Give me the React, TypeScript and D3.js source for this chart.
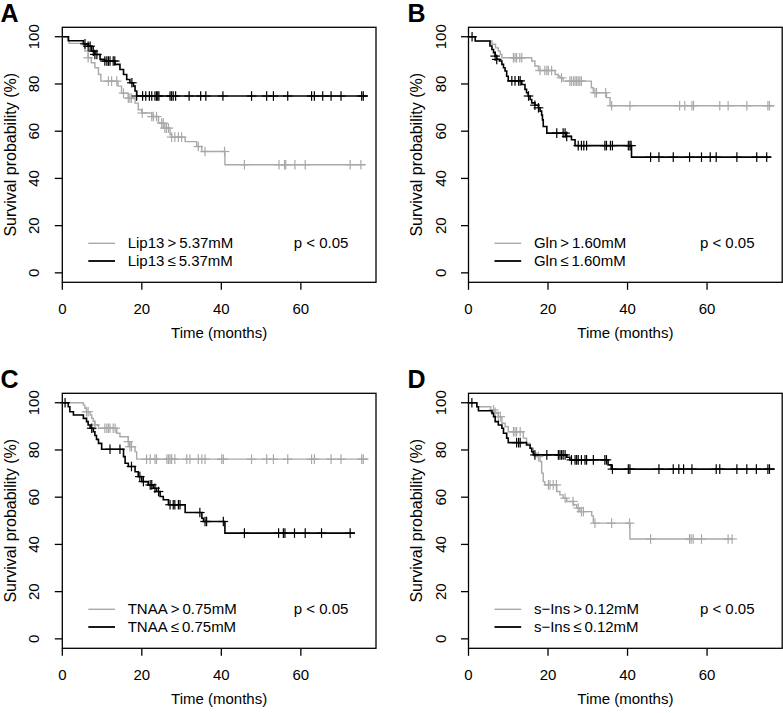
import React from 'react';
import * as d3 from 'd3';

type Pt = [number, number];

const timeTicks = [0, 20, 40, 60];
const survTicks = [0, 20, 40, 60, 80, 100];

// ---------- Panel A: Lip13 ----------
const lipHighSteps: Pt[] = [[0,100],[1.7,97.2],[5.3,96.0],[5.7,93.9],[6.5,91.1],[7.3,89.0],[8.2,86.9],[9.1,84.0],[9.7,81.2],[14.0,79.1],[14.9,76.1],[16.6,74.0],[18.3,71.9],[19.1,69.1],[20.0,67.7],[22.5,66.2],[24.2,63.4],[25.5,61.3],[27.1,58.5],[27.5,57.5],[30.9,55.6],[33.8,53.5],[35.1,51.4],[40.9,45.8]];
const lipHighEnd = 76.2;
const lipHighCensor = [6.5,11.6,12.4,13.7,15.4,16.6,17.0,17.4,20.1,22.5,22.9,23.7,25.0,25.4,25.8,26.2,26.7,27.5,28.3,29.2,30.0,34.2,35.9,40.8,45.8,54.5,55.9,56.2,58.5,61.1,72.4,75.1];
const lipLowSteps: Pt[] = [[0,100],[1.5,98.3],[5.3,97.0],[6.5,96.0],[7.4,93.9],[8.2,92.5],[9.5,90.4],[10.7,89.7],[13.3,88.3],[14.5,86.1],[15.4,84.0],[16.2,81.9],[17.0,80.5],[17.9,79.1],[18.3,77.0],[18.7,74.9]];
const lipLowEnd = 76.8;
const lipLowCensor = [5.7,6.5,7.0,7.8,8.2,8.7,10.7,11.2,11.6,12.0,12.8,13.2,17.5,18.7,20.2,21.0,21.9,22.5,23.3,23.7,24.0,24.3,27.1,27.5,27.9,28.5,31.9,34.8,36.1,40.4,47.6,51.4,53.1,56.7,62.7,63.4,65.5,67.6,70.1,75.3,75.7];
const lipLegend = ['Lip13\u2009>\u20095.37mM', 'Lip13\u2009\u2264\u20095.37mM'];

// ---------- Panel B: Gln ----------
const glnHighSteps: Pt[] = [[0,100],[1.7,98.2],[5.9,96.8],[6.8,95.3],[7.5,93.9],[8.0,92.5],[8.4,91.1],[15.9,89.7],[16.7,87.6],[17.6,85.7],[21.8,84.0],[22.6,83.3],[23.0,82.6],[23.8,81.2],[30.9,78.4],[31.4,76.3],[34.7,74.2],[35.6,70.8]];
const glnHighEnd = 76.9;
const glnHighCensor = [11.3,11.7,12.1,12.9,13.4,18.0,19.2,19.7,20.1,20.9,23.4,25.5,25.9,26.4,26.8,27.2,27.6,28.0,28.4,31.8,32.2,34.5,36.0,40.6,53.1,54.4,56.2,56.6,63.2,65.3,70.0,75.3,75.7];
const glnLowSteps: Pt[] = [[0,100],[1.7,98.2],[5.4,96.1],[5.9,94.6],[6.3,93.2],[6.7,91.8],[7.1,90.4],[7.8,89.7],[8.4,88.3],[8.8,86.9],[9.2,85.5],[9.6,83.3],[10.0,81.3],[13.4,79.8],[14.2,77.7],[14.6,76.3],[15.0,74.9],[15.5,73.4],[15.9,72.0],[16.7,71.0],[17.6,69.9],[18.0,68.5],[18.4,66.8],[18.6,64.8],[18.8,62.0],[19.7,59.2],[24.5,57.8],[25.9,56.4],[26.8,53.9],[41.0,49.0]];
const glnLowEnd = 76.1;
const glnLowCensor = [0.9,6.7,7.1,10.9,11.7,12.6,13.0,15.1,16.7,17.6,22.2,23.8,24.3,24.7,27.6,28.4,29.0,29.7,34.3,34.7,35.7,36.2,40.2,40.6,40.9,45.8,47.9,51.5,55.6,58.6,60.8,62.3,67.5,72.5,75.0];
const glnLegend = ['Gln\u2009>\u20091.60mM', 'Gln\u2009\u2264\u20091.60mM'];

// ---------- Panel C: TNAA ----------
const tnaaHighSteps: Pt[] = [[0,100],[5.3,99.0],[5.7,97.6],[6.1,96.2],[7.0,94.8],[7.4,93.4],[7.8,92.0],[8.2,90.6],[9.1,89.2],[13.7,87.1],[14.5,85.6],[16.6,83.5],[17.0,81.4],[18.3,79.3],[18.7,76.1]];
const tnaaHighEnd = 77.0;
const tnaaHighCensor = [6.1,6.5,8.2,10.7,11.2,11.6,12.0,12.8,13.3,16.6,17.0,17.4,21.2,22.1,23.3,23.7,26.3,26.7,27.1,27.5,28.3,31.3,32.1,34.2,35.1,35.9,40.1,40.5,47.6,51.4,53.1,56.7,62.7,63.4,67.6,70.1,75.3,75.7];
const tnaaLowSteps: Pt[] = [[0,100],[1.5,98.3],[1.9,96.2],[2.8,94.8],[5.3,93.4],[6.1,92.0],[6.5,90.6],[7.0,89.2],[7.8,87.7],[8.2,86.1],[8.6,84.5],[9.1,82.8],[9.9,80.3],[15.4,77.2],[15.8,74.4],[16.6,73.0],[18.3,70.8],[19.1,68.7],[20.0,66.6],[21.6,65.2],[22.9,63.8],[23.7,62.4],[24.6,60.3],[25.4,58.9],[26.7,56.8],[30.9,53.5],[35.1,51.1],[35.5,49.7],[40.9,44.8]];
const tnaaLowEnd = 73.6;
const tnaaLowCensor = [0.7,7.4,12.0,14.5,17.4,19.5,20.4,22.1,22.5,23.3,24.2,27.1,27.9,28.3,29.2,29.6,34.6,35.9,36.3,40.5,45.8,54.4,55.6,56.0,58.4,61.1,65.2,72.4];
const tnaaLegend = ['TNAA\u2009>\u20090.75mM', 'TNAA\u2009\u2264\u20090.75mM'];

// ---------- Panel D: s-Ins ----------
const sinsHighSteps: Pt[] = [[0,100],[2.1,98.3],[5.6,97.0],[6.5,95.9],[7.1,95.5],[7.5,94.1],[8.4,91.3],[9.2,89.9],[10.0,87.7],[13.8,85.0],[14.6,82.8],[15.5,80.7],[16.3,78.6],[17.2,77.2],[18.0,75.1],[18.4,70.2],[18.8,66.6],[19.2,65.2],[22.2,62.4],[23.0,61.0],[23.8,59.6],[24.7,58.2],[26.4,56.8],[27.2,55.4],[28.0,53.9],[31.0,52.1],[31.4,49.0],[40.6,42.3]];
const sinsHighEnd = 66.3;
const sinsHighCensor = [6.3,6.7,7.5,8.0,11.3,11.7,12.1,13.0,17.6,20.1,20.5,21.3,22.1,24.3,26.3,27.6,28.4,28.9,31.8,36.0,40.5,45.8,55.6,56.0,56.5,58.6,65.3,66.3];
const sinsLowSteps: Pt[] = [[0,100],[2.1,98.3],[2.5,96.6],[5.9,95.5],[6.3,94.1],[6.7,92.0],[7.5,90.6],[8.4,89.2],[8.8,87.1],[9.6,85.0],[10.0,83.1],[14.6,82.1],[15.5,80.7],[15.9,79.3],[16.3,77.9],[24.7,76.9],[25.5,75.8],[35.1,73.7],[35.9,71.9]];
const sinsLowEnd = 77.0;
const sinsLowCensor = [0.85,12.1,12.6,13.0,16.7,19.7,22.6,23.0,23.4,23.8,24.3,25.9,26.8,27.2,27.6,28.4,29.3,29.7,31.4,34.3,34.7,36.2,40.2,40.6,47.9,51.5,52.9,54.1,56.2,62.3,63.2,67.5,70.0,72.4,75.3,75.7];
const sinsLegend = ['s\u2212Ins\u2009>\u20090.12mM', 's\u2212Ins\u2009\u2264\u20090.12mM'];

const pLabel = 'p < 0.05';
const panelLetters = ['A', 'B', 'C', 'D'];
const xTitle = 'Time (months)';
const yTitle = 'Survival probability (%)';

// ---------- layout ----------
const W = 783, H = 713;
const BOX_W = 313.7, BOX_H = 255;
const GRAY = '#a9a9a9';
const FONT = '"Liberation Sans", Arial, Helvetica, sans-serif';
const origins: [number, number][] = [[62.3, 27.3], [468.5, 27.3], [62.3, 393.3], [468.5, 393.3]];
const letterPos: [number, number][] = [[0.5, 22], [407.5, 22], [0.5, 388], [407.5, 388]];

const x = d3.scaleLinear().domain([0, 78.9]).range([0, BOX_W]);
const y = d3.scaleLinear().domain([-4, 104]).range([BOX_H, 0]);

interface Group { steps: Pt[]; end: number; censor: number[]; color: string; width: number; }
interface Panel { high: Group; low: Group; legend: string[]; }

const panels: Panel[] = [
  { high: { steps: lipHighSteps, end: lipHighEnd, censor: lipHighCensor, color: GRAY, width: 1.4 },
    low: { steps: lipLowSteps, end: lipLowEnd, censor: lipLowCensor, color: '#000', width: 1.6 }, legend: lipLegend },
  { high: { steps: glnHighSteps, end: glnHighEnd, censor: glnHighCensor, color: GRAY, width: 1.4 },
    low: { steps: glnLowSteps, end: glnLowEnd, censor: glnLowCensor, color: '#000', width: 1.6 }, legend: glnLegend },
  { high: { steps: tnaaHighSteps, end: tnaaHighEnd, censor: tnaaHighCensor, color: GRAY, width: 1.4 },
    low: { steps: tnaaLowSteps, end: tnaaLowEnd, censor: tnaaLowCensor, color: '#000', width: 1.6 }, legend: tnaaLegend },
  { high: { steps: sinsHighSteps, end: sinsHighEnd, censor: sinsHighCensor, color: GRAY, width: 1.4 },
    low: { steps: sinsLowSteps, end: sinsLowEnd, censor: sinsLowCensor, color: '#000', width: 1.6 }, legend: sinsLegend },
];

const stepLine = d3.line<Pt>().x(d => x(d[0])).y(d => y(d[1])).curve(d3.curveStepAfter);

function levelAt(steps: Pt[], t: number): number {
  let v = steps[0][1];
  for (const s of steps) { if (s[0] <= t) v = s[1]; else break; }
  return v;
}

function Curve({ g }: { g: Group }) {
  const pts: Pt[] = [...g.steps, [g.end, g.steps[g.steps.length - 1][1]]];
  const m = 4.8;
  return (
    <g>
      <path d={stepLine(pts) || ''} fill="none" stroke={g.color} strokeWidth={g.width} />
      {g.censor.map((t, i) => {
        const cx = x(t), cy = y(levelAt(g.steps, t));
        return (
          <g key={i} stroke={g.color} strokeWidth={1.2}>
            <line x1={cx} x2={cx} y1={cy - m} y2={cy + m} />
            <line x1={cx - m} x2={cx + m} y1={cy} y2={cy} />
          </g>
        );
      })}
    </g>
  );
}

function PanelView({ p, idx }: { p: Panel; idx: number }) {
  const [ox, oy] = origins[idx];
  return (
    <g transform={`translate(${ox},${oy})`}>
      <rect x={0} y={0} width={BOX_W} height={BOX_H} fill="none" stroke="#000" strokeWidth={1.3} />
      {timeTicks.map(t => (
        <g key={t}>
          <line x1={x(t)} x2={x(t)} y1={BOX_H} y2={BOX_H + 7.5} stroke="#000" strokeWidth={1.3} />
          <text x={x(t)} y={BOX_H + 31.7} textAnchor="middle" fontSize={15}>{t}</text>
        </g>
      ))}
      {survTicks.map(s => (
        <g key={s}>
          <line x1={-7.5} x2={0} y1={y(s)} y2={y(s)} stroke="#000" strokeWidth={1.3} />
          <text transform={`translate(${-23},${y(s)}) rotate(-90)`} textAnchor="middle" fontSize={15}>{s}</text>
        </g>
      ))}
      <text x={BOX_W / 2} y={BOX_H + 55.5} textAnchor="middle" fontSize={15}>{xTitle}</text>
      <text transform={`translate(${-46.5},${BOX_H / 2}) rotate(-90)`} textAnchor="middle" fontSize={16}>{yTitle}</text>
      <Curve g={p.high} />
      <Curve g={p.low} />
      <line x1={26} x2={52.7} y1={216} y2={216} stroke={GRAY} strokeWidth={1.4} />
      <line x1={26} x2={52.7} y1={233.7} y2={233.7} stroke="#000" strokeWidth={1.8} />
      <text x={65.4} y={221} fontSize={15}>{p.legend[0]}</text>
      <text x={65.4} y={238.7} fontSize={15}>{p.legend[1]}</text>
      <text x={231.4} y={221} fontSize={15}>{pLabel}</text>
    </g>
  );
}

export default function App() {
  return (
    <svg width={W} height={H} viewBox={`0 0 ${W} ${H}`} style={{ position: 'absolute', left: 0, top: 0, background: '#fff' }} fontFamily={FONT}>
      <rect width={W} height={H} fill="#fff" />
      {panels.map((p, i) => <PanelView key={i} p={p} idx={i} />)}
      {panelLetters.map((l, i) => (
        <text key={l} x={letterPos[i][0]} y={letterPos[i][1]} fontSize={25} fontWeight="bold">{l}</text>
      ))}
    </svg>
  );
}
